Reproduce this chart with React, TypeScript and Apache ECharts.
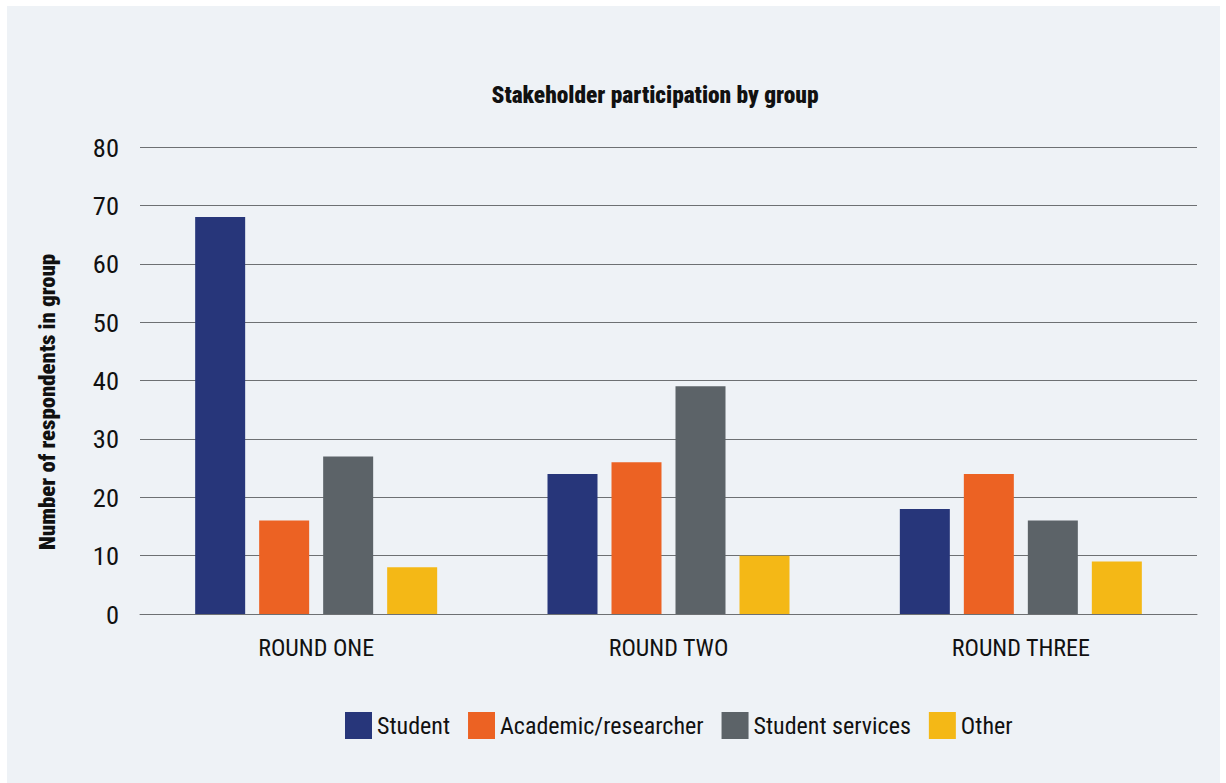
import React, { useEffect, useRef } from "react";
import * as echarts from "echarts";

const categories = ["ROUND ONE", "ROUND TWO", "ROUND THREE"];
const seriesNames = ["Student", "Academic/researcher", "Student services", "Other"];
const student = [68, 24, 18];
const academic = [16, 26, 24];
const studentServices = [27, 39, 16];
const other = [8, 10, 9];
const colors = ["#27367a", "#ec6223", "#5c6368", "#f4b816"];
const titleText = "Stakeholder participation by group";
const yAxisTitle = "Number of respondents in group";

const FONT = "'Roboto Condensed', Roboto, sans-serif";

export default function App() {
  const ref = useRef<HTMLDivElement>(null);
  useEffect(() => {
    if (!ref.current) return;
    const chart = echarts.init(ref.current, null, { renderer: "svg" });
    const data = [student, academic, studentServices, other];
    chart.setOption({
      animation: false,
      backgroundColor: "#eef2f6",
      graphic: [
        {
          type: "text",
          x: 648,
          y: 89,
          style: {
            text: titleText,
            fontFamily: FONT,
            fontWeight: 900,
            fontSize: 23.4,
            fill: "#111",
            align: "center",
            verticalAlign: "middle",
          },
        },
        {
          type: "text",
          x: 40,
          y: 396,
          rotation: Math.PI / 2,
          style: {
            text: yAxisTitle,
            fontFamily: FONT,
            fontWeight: 900,
            fontSize: 22.8,
            fill: "#111",
            align: "center",
            verticalAlign: "middle",
          },
        },
      ],
      legend: {
        data: seriesNames,
        top: 701,
        left: 333,
        itemWidth: 27,
        itemHeight: 27,
        itemGap: 18,
        icon: "rect",
        textStyle: { fontFamily: FONT, fontSize: 24, color: "#111" },
      },
      grid: { left: 133, top: 141, width: 1057, height: 467, containLabel: false },
      xAxis: {
        type: "category",
        data: categories,
        axisLine: { show: true, lineStyle: { color: "#6d7073", width: 1 } },
        axisTick: { show: false },
        axisLabel: { margin: 22, fontFamily: FONT, fontSize: 24, color: "#111" },
      },
      yAxis: {
        type: "value",
        min: 0,
        max: 80,
        interval: 10,
        axisLine: { show: false },
        axisTick: { show: false },
        axisLabel: { margin: 21, fontFamily: FONT, fontSize: 26.5, color: "#111" },
        splitLine: { lineStyle: { color: "#6d7073", width: 1 } },
      },
      series: seriesNames.map((name, i) => ({
        name,
        type: "bar",
        data: data[i],
        barWidth: 50,
        barGap: "28%",
        itemStyle: { color: colors[i] },
      })),
    });
    return () => chart.dispose();
  }, []);
  return (
    <div
      ref={ref}
      style={{ position: "absolute", left: 7, top: 6, width: 1213, height: 777 }}
    />
  );
}
